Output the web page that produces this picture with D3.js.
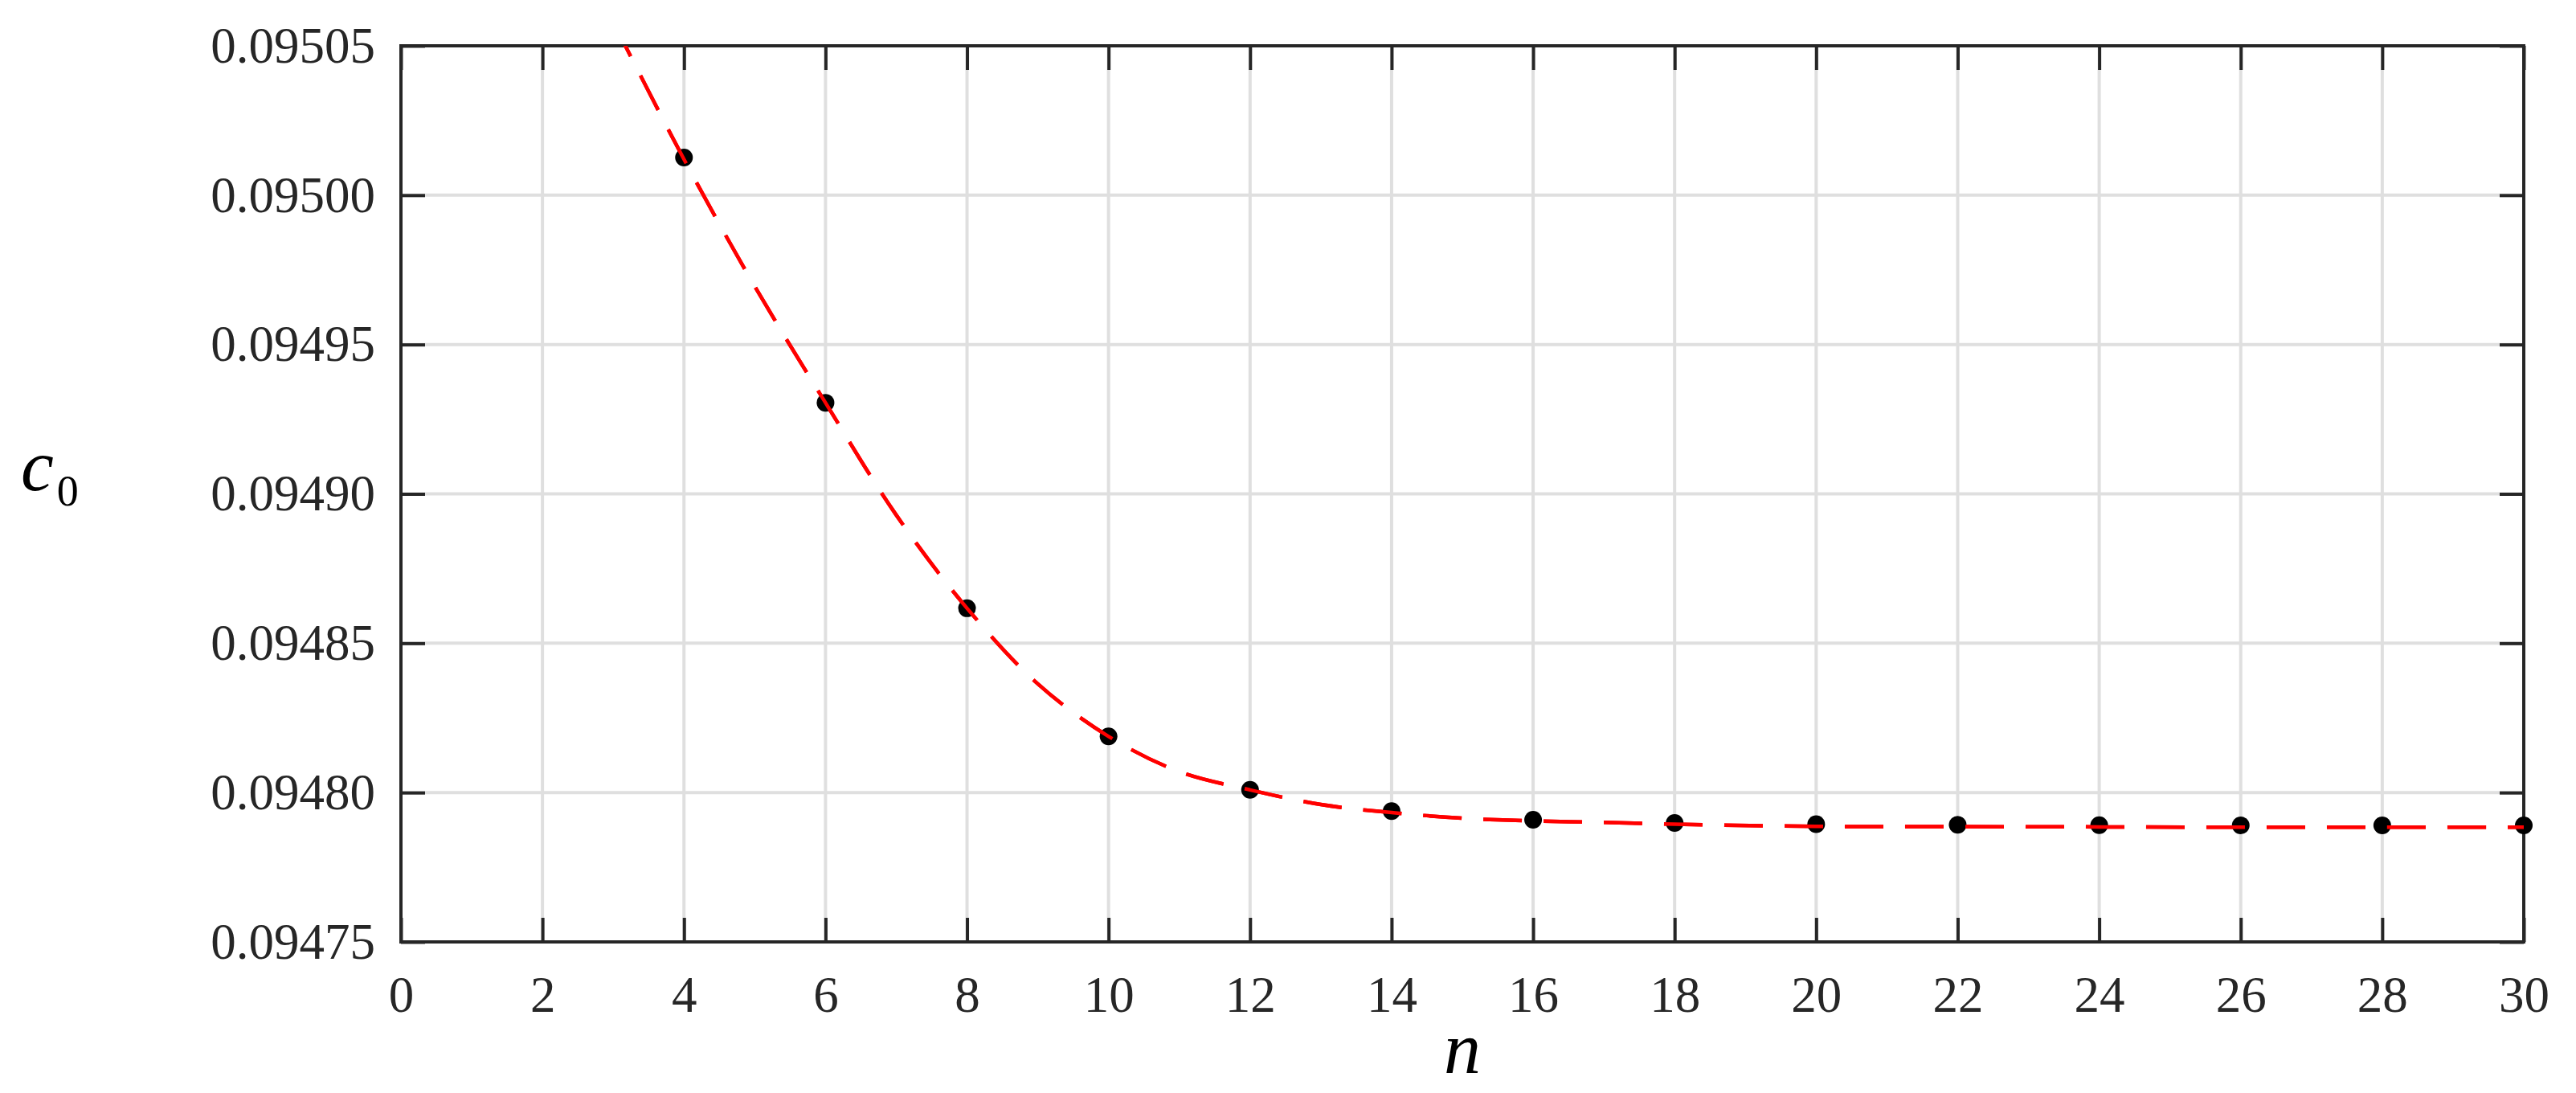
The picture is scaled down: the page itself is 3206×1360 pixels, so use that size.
<!DOCTYPE html>
<html>
<head>
<meta charset="utf-8">
<script src="https://cdn.jsdelivr.net/npm/d3@7"></script>
<style>
  html, body { margin: 0; padding: 0; background: #ffffff; }
  svg { display: block; }
</style>
</head>
<body>
<svg id="chart" width="3206" height="1360"></svg>
<script>
// ---- data ----
const nValues  = [4, 6, 8, 10, 12, 14, 16, 18, 20, 22, 24, 26, 28, 30];
const c0Values = [0.0950126, 0.0949305, 0.0948617, 0.0948188, 0.0948009, 0.0947938, 0.0947909,
                  0.0947898, 0.0947894, 0.0947892, 0.0947891, 0.0947890, 0.0947890, 0.0947890];
const fitN  = [3, 4, 5, 6, 7, 8, 9, 10, 11, 12, 13, 14, 15, 16, 17, 18, 20, 22, 24, 26, 28, 30];
const fitC0 = [0.095058, 0.095012, 0.0949695, 0.0949305, 0.0948929, 0.0948617, 0.0948364, 0.0948188,
               0.094807, 0.0948009, 0.094796, 0.0947933, 0.0947914, 0.0947905, 0.0947900, 0.0947894,
               0.0947887, 0.0947886, 0.0947885, 0.0947884, 0.0947884, 0.0947884];
const xTicks = [0, 2, 4, 6, 8, 10, 12, 14, 16, 18, 20, 22, 24, 26, 28, 30];
const yTicks = [0.09475, 0.09480, 0.09485, 0.09490, 0.09495, 0.09500, 0.09505];
const xDomain = [0, 30];
const yDomain = [0.09475, 0.09505];

// ---- layout ----
const L = 499, R = 3141, T = 57, B = 1172;
const svg = d3.select("#chart");
const font = "'Liberation Serif', 'Times New Roman', serif";
const axisColor = "#262626";

const x = d3.scaleLinear().domain(xDomain).range([L, R]);
const y = d3.scaleLinear().domain(yDomain).range([B, T]);

svg.append("rect").attr("x", 0).attr("y", 0).attr("width", 3206).attr("height", 1360).attr("fill", "#fff");

// grid
const grid = svg.append("g");
grid.selectAll("line.gx").data(xTicks).join("line")
  .attr("x1", d => x(d)).attr("x2", d => x(d)).attr("y1", T).attr("y2", B)
  .attr("stroke", "#dfdfdf").attr("stroke-width", 4);
grid.selectAll("line.gy").data(yTicks).join("line")
  .attr("y1", d => y(d)).attr("y2", d => y(d)).attr("x1", L).attr("x2", R)
  .attr("stroke", "#dfdfdf").attr("stroke-width", 4);

// axes with inward ticks
const tickLen = 30;
function styleAxis(g) {
  g.select(".domain").remove();
  g.selectAll(".tick line").attr("stroke", axisColor).attr("stroke-width", 4);
  g.selectAll(".tick text").attr("fill", axisColor).attr("font-family", font).attr("font-size", 63);
}
const xAxisB = svg.append("g").attr("transform", `translate(0,${B})`)
  .call(d3.axisBottom(x).tickValues(xTicks).tickFormat(d3.format("d")).tickSize(-tickLen).tickPadding(52));
styleAxis(xAxisB);
xAxisB.selectAll(".tick text").attr("dy", "0.71em").attr("y", 42);
const xAxisT = svg.append("g").attr("transform", `translate(0,${T})`)
  .call(d3.axisTop(x).tickValues(xTicks).tickFormat("").tickSize(-tickLen));
styleAxis(xAxisT);
const yAxisL = svg.append("g").attr("transform", `translate(${L},0)`)
  .call(d3.axisLeft(y).tickValues(yTicks).tickFormat(d3.format(".5f")).tickSize(-tickLen).tickPadding(32));
styleAxis(yAxisL);
yAxisL.selectAll(".tick text").attr("x", -32);
const yAxisR = svg.append("g").attr("transform", `translate(${R},0)`)
  .call(d3.axisRight(y).tickValues(yTicks).tickFormat("").tickSize(-tickLen));
styleAxis(yAxisR);

// frame
svg.append("rect").attr("x", L).attr("y", T).attr("width", R - L).attr("height", B - T)
  .attr("fill", "none").attr("stroke", axisColor).attr("stroke-width", 4);

// clip
svg.append("clipPath").attr("id", "plotclip").append("rect")
  .attr("x", L).attr("y", T).attr("width", R - L).attr("height", B - T);

// fitted dashed curve
const fitData = fitN.map((n, i) => [n, fitC0[i]]);
svg.append("path").datum(fitData)
  .attr("clip-path", "url(#plotclip)")
  .attr("d", d3.line().x(d => x(d[0])).y(d => y(d[1])).curve(d3.curveCatmullRom.alpha(0.5)))
  .attr("fill", "none").attr("stroke", "#ff0000").attr("stroke-width", 4.5)
  .attr("stroke-dasharray", "48 27");

// points
const pts = nValues.map((n, i) => [n, c0Values[i]]);
svg.append("g").selectAll("circle").data(pts).join("circle")
  .attr("cx", d => x(d[0])).attr("cy", d => y(d[1])).attr("r", 11).attr("fill", "#000");
// redraw line on top of points (line passes over markers in reference)
svg.append("path").datum(fitData)
  .attr("clip-path", "url(#plotclip)")
  .attr("d", d3.line().x(d => x(d[0])).y(d => y(d[1])).curve(d3.curveCatmullRom.alpha(0.5)))
  .attr("fill", "none").attr("stroke", "#ff0000").attr("stroke-width", 4.5)
  .attr("stroke-dasharray", "48 27");

// axis labels
svg.append("text").attr("x", (L + R) / 2).attr("y", 1335).attr("text-anchor", "middle")
  .attr("font-family", font).attr("font-style", "italic").attr("font-size", 92).attr("fill", "#000")
  .text("n");
const yl = svg.append("text").attr("x", 26).attr("y", 610)
  .attr("font-family", font).attr("fill", "#000");
yl.append("tspan").attr("font-style", "italic").attr("font-size", 92).text("c");
yl.append("tspan").attr("font-size", 54).attr("dy", 19).attr("dx", 4).text("0");
</script>
</body>
</html>
